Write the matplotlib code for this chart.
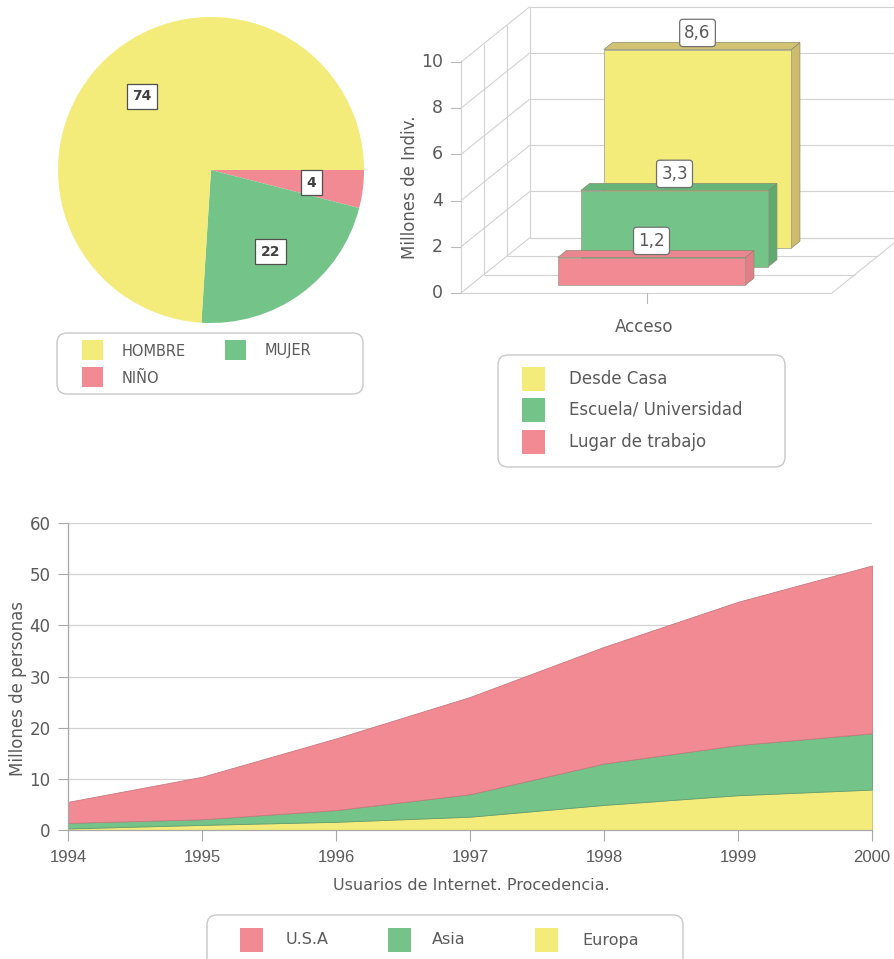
import matplotlib
matplotlib.use("Agg")
import matplotlib.pyplot as plt
from matplotlib.patches import Polygon, FancyBboxPatch, Rectangle
from matplotlib import font_manager
import numpy as np

# ---------------- data ----------------
# Users by sex / age (percent)
pie_labels = ["NIÑO", "MUJER", "HOMBRE"]
pie_values = [4, 22, 74]

# Access point (millions of individuals)
acceso_labels = ["Desde Casa", "Escuela/ Universidad", "Lugar de trabajo"]
acceso_values = [8.6, 3.3, 1.2]
acceso_depth = [2, 1, 0]          # row of each series in the 3-D box (0 = front)

# Internet users by origin (millions of people)
years = [1994, 1995, 1996, 1997, 1998, 1999, 2000]
europa = [0.3, 1.0, 1.6, 2.6, 4.9, 6.8, 7.9]
asia = [1.1, 1.1, 2.3, 4.4, 8.1, 9.8, 11.0]
usa = [4.1, 8.3, 14.0, 19.0, 22.8, 28.0, 32.8]

# ---------------- style ----------------
YELLOW = "#F3EC7A"
GREEN = "#74C389"
RED = "#F28A93"
SIDE = {YELLOW: "#CDBB6E", GREEN: "#5EAA71", RED: "#E27E87"}
TOP = {YELLOW: "#D2C274", GREEN: "#67B47B", RED: "#EA868F"}
TXT = "#5a5a5a"
GRID = "#d2d2d2"

plt.rcParams["font.family"] = ["DejaVu Sans"]
plt.rcParams["text.color"] = TXT

names = {f.name for f in font_manager.fontManager.ttflist}
NARROW = next((n for n in ["Liberation Sans Narrow", "DejaVu Sans Condensed", "Liberation Sans"]
               if n in names), "DejaVu Sans")

W, H = 894, 959
fig = plt.figure(figsize=(W / 100, H / 100), dpi=100)


def px_axes(x0, y0, x1, y1, **kw):
    return fig.add_axes([x0 / W, 1 - y1 / H, (x1 - x0) / W, (y1 - y0) / H], **kw)


# overlay in pixel units for legends and free labels
ov = px_axes(0, 0, W, H)
ov.set_xlim(0, W)
ov.set_ylim(H, 0)
ov.axis("off")
ov.set_zorder(10)
ov.patch.set_alpha(0)


def legend_box(x0, y0, x1, y1):
    ov.add_patch(FancyBboxPatch((x0, y0), x1 - x0, y1 - y0,
                                boxstyle="round,pad=0,rounding_size=10",
                                fc="white", ec="#c8c8c8", lw=1.0))


def legend_entry(px, py, color, label, tx, size=11.5):
    ov.add_patch(Rectangle((px, py), 23, 24, fc=color, ec="none"))
    ov.text(tx, py + 12, label, ha="left", va="center", fontsize=size, color=TXT)


# ---------------- pie ----------------
pie_colors = {"HOMBRE": YELLOW, "MUJER": GREEN, "NIÑO": RED}
ax_pie = px_axes(58, 17, 364, 323)
wedges, _ = ax_pie.pie(pie_values, colors=[pie_colors[l] for l in pie_labels],
                       startangle=0, counterclock=False, radius=1,
                       wedgeprops=dict(linewidth=0))
ax_pie.set_xlim(-1, 1)
ax_pie.set_ylim(-1, 1)
for w, v in zip(wedges, pie_values):
    a = np.deg2rad((w.theta1 + w.theta2) / 2)
    ax_pie.text(0.66 * np.cos(a), 0.66 * np.sin(a), str(v), ha="center", va="center",
                fontsize=10, fontweight="bold", color="#404040",
                bbox=dict(boxstyle="square,pad=0.4", fc="white", ec="#505050", lw=0.9))

legend_box(57, 333, 363, 394)
ov.add_patch(Rectangle((82, 340), 21, 20, fc=YELLOW, ec="none"))
ov.text(122, 351, "HOMBRE", ha="left", va="center", fontsize=10.5, color=TXT)
ov.add_patch(Rectangle((225, 340), 21, 20, fc=GREEN, ec="none"))
ov.text(265, 351, "MUJER", ha="left", va="center", fontsize=10.5, color=TXT)
ov.add_patch(Rectangle((82, 367), 21, 20, fc=RED, ec="none"))
ov.text(122, 378, "NIÑO", ha="left", va="center", fontsize=10.5, color=TXT)

# ---------------- 3-D bars ----------------
FX0, FY0, FW, PPU = 461.0, 293.0, 371.0, 23.1   # front floor origin, width, px per unit
AX0, AY0, AX1, AY1 = 440, 0, 894, 312
ax3 = px_axes(AX0, AY0, AX1, AY1)
ax3.set_xlim((AX0 - FX0) / FW, (AX1 - FX0) / FW)
ax3.set_ylim(-(AY1 - FY0) / PPU, (FY0 - AY0) / PPU)
ax3.axis("off")
DX, DY = 23.0 / FW, 18.5 / PPU
NDEPTH = 3
VMAX = 10


def proj(x, d, v):
    return (x + d * DX, v + d * DY)


def seg(p, q, **kw):
    ax3.plot([p[0], q[0]], [p[1], q[1]], **kw)


gkw = dict(color=GRID, lw=0.8, zorder=1, solid_capstyle="butt")
for v in range(0, VMAX + 1, 2):
    seg(proj(0, 0, v), proj(0, NDEPTH, v), **gkw)            # left wall
    seg(proj(0, NDEPTH, v), proj(1.2, NDEPTH, v), **gkw)     # back wall
    seg(proj(0, 0, v), proj(-10 / FW, 0, v), color="#b8b8b8", lw=0.8, zorder=1)
    ax3.text(-18 / FW, v, str(v), ha="right", va="center", fontsize=12.5, color=TXT)
for d in range(NDEPTH + 1):
    seg(proj(0, d, 0), proj(0, d, VMAX), **gkw)              # wall verticals
    seg(proj(0, d, 0), proj(1, d, 0), **gkw)                 # floor
seg(proj(1, 0, 0), proj(1, NDEPTH, 0), **gkw)
seg((0.5, 0), (0.5, -10 / PPU), color="#b8b8b8", lw=0.8, zorder=1)

BX0, BX1 = 0.235, 0.74
D0, D1 = 0.42, 0.80
order = sorted(range(len(acceso_values)), key=lambda i: -acceso_depth[i])
bar_colors = [YELLOW, GREEN, RED]
for k, i in enumerate(order):
    v = acceso_values[i]
    c = bar_colors[i]
    d0, d1 = acceso_depth[i] + D0, acceso_depth[i] + D1
    z = 2 + k
    side = [proj(BX1, d0, 0), proj(BX1, d1, 0), proj(BX1, d1, v), proj(BX1, d0, v)]
    top = [proj(BX0, d0, v), proj(BX1, d0, v), proj(BX1, d1, v), proj(BX0, d1, v)]
    front = [proj(BX0, d0, 0), proj(BX1, d0, 0), proj(BX1, d0, v), proj(BX0, d0, v)]
    ax3.add_patch(Polygon(side, closed=True, fc=SIDE[c], ec="#8a8a6a", lw=0.5, zorder=z))
    ax3.add_patch(Polygon(top, closed=True, fc=TOP[c], ec="#8a8a6a", lw=0.5, zorder=z))
    ax3.add_patch(Polygon(front, closed=True, fc=c, ec="#9a9a8a", lw=0.5, zorder=z))
    cx, cy = proj((BX0 + BX1) / 2, d0, v)
    ax3.annotate(f"{v:.1f}".replace(".", ","), (cx, cy), xytext=(0, 5.5),
                 textcoords="offset points", ha="center", va="bottom",
                 fontsize=12, color=TXT, zorder=20,
                 bbox=dict(boxstyle="round,pad=0.28,rounding_size=0.2",
                           fc="white", ec="#707070", lw=0.9))

ov.text(410, 187, "Millones de Indiv.", rotation=90, ha="center", va="center",
        fontsize=12, color=TXT)
ov.text(644, 327, "Acceso", ha="center", va="center", fontsize=12, color=TXT)

legend_box(498, 355, 785, 467)
for lab, c, py in zip(acceso_labels, bar_colors, [367, 398, 430]):
    legend_entry(522, py, c, lab, 569, size=12)

# ---------------- stacked area ----------------
ax_a = px_axes(68, 523, 872, 830)
polys = ax_a.stackplot(years, europa, asia, usa, colors=[YELLOW, GREEN, RED],
                       linewidth=0.6, zorder=2)
for p, ec in zip(polys, ["#c9c07a", "#5e9e70", "#c87a80"]):
    p.set_edgecolor(ec)
ax_a.set_xlim(years[0], years[-1])
ax_a.set_ylim(0, 60)
ax_a.set_yticks(range(0, 61, 10))
ax_a.set_xticks(years)
ax_a.grid(axis="y", color=GRID, lw=0.9)
ax_a.set_axisbelow(True)
for s in ["top", "right"]:
    ax_a.spines[s].set_visible(False)
for s in ["left", "bottom"]:
    ax_a.spines[s].set_color("#a8a8a8")
    ax_a.spines[s].set_linewidth(0.9)
ax_a.tick_params(axis="y", direction="out", length=7, width=0.8, color="#a8a8a8",
                 pad=5.5, labelsize=12, labelcolor=TXT)
ax_a.tick_params(axis="x", direction="out", length=8, width=0.8, color="#a8a8a8",
                 pad=6.5, labelsize=12, labelcolor=TXT)
for t in ax_a.get_xticklabels():
    t.set_fontfamily(NARROW)

ov.text(18, 688, "Millones de personas", rotation=90, ha="center", va="center",
        fontsize=12, color=TXT)
ov.text(471, 885, "Usuarios de Internet. Procedencia.", ha="center", va="center",
        fontsize=11.5, color=TXT)

legend_box(207, 915, 683, 990)
for lab, c, px, tx in zip(["U.S.A", "Asia", "Europa"], [RED, GREEN, YELLOW],
                          [240, 388, 535], [286, 432, 582]):
    legend_entry(px, 928, c, lab, tx, size=11.5)

fig.savefig("out.png", dpi=100)
